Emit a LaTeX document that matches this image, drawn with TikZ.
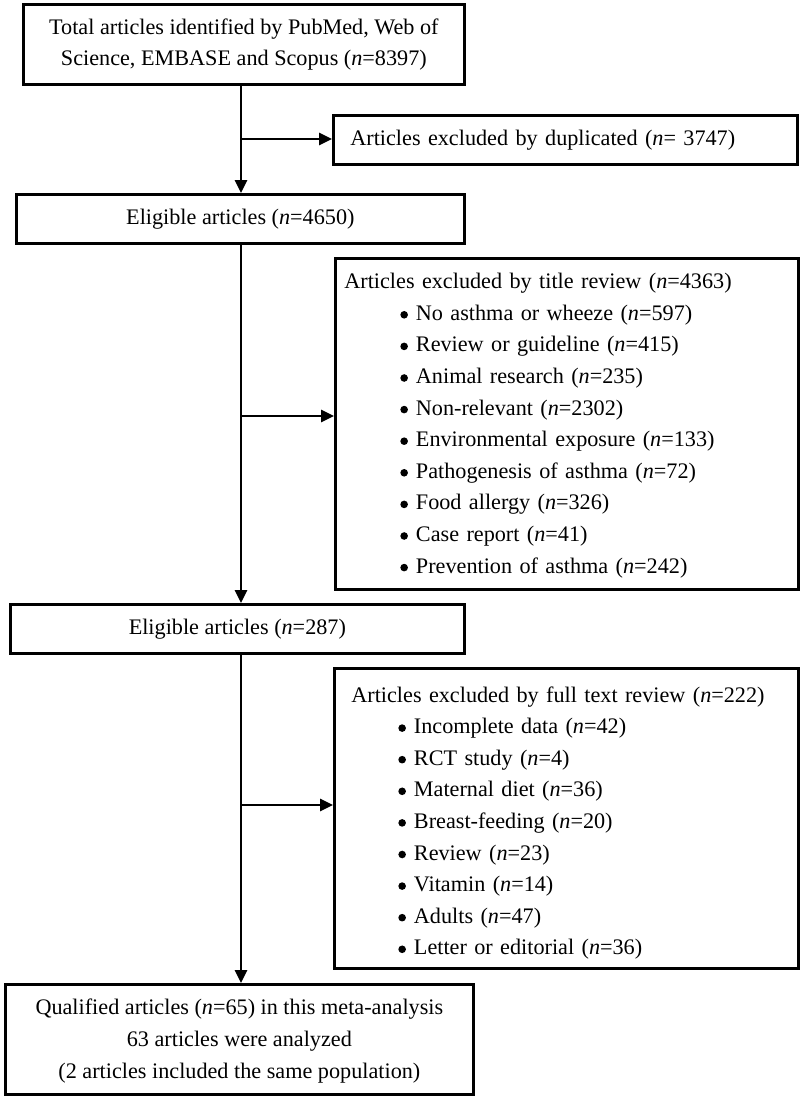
\documentclass[tikz,border=0pt]{standalone}
\usepackage{fontspec}
\setmainfont{Liberation Serif}
\usetikzlibrary{arrows.meta}
\newcommand{\bul}{\tikz[x=1pt,y=1pt,baseline={(0pt,-5.6pt)}]\fill (3.8pt,0pt) circle[radius=3.8pt];\hspace{8pt}}
\begin{document}
\begin{tikzpicture}[x=1pt,y=-1pt,
  box/.style={draw, line width=2.7pt, inner sep=0pt, anchor=north west,
    font=\fontsize{22.2}{31.6}\selectfont},
  arr/.style={line width=2.6pt, -{Triangle[length=13pt,width=12pt]}}]
\useasboundingbox (0,0) rectangle (800,1098);
\node[box, minimum width=441pt, minimum height=80pt, align=center] (b1) at (22,3)
  {Total articles identified by PubMed, Web of\\Science, EMBASE and Scopus (\textit{n}=8397)};
\node[box, minimum height=49pt, text width=430pt, inner xsep=17pt, align=left] (b2) at (332,114)
  {Articles excluded by duplicated (\textit{n}= 3747)};
\node[box, minimum width=448pt, minimum height=49pt, align=center] (b3) at (15,193)
  {Eligible articles (\textit{n}=4650)};
\node[box, minimum height=331pt, text width=445pt, inner xsep=9pt, align=left] (b4) at (334,257)
  {\rule{0pt}{19pt}Articles excluded by title review (\textit{n}=4363)\\
   \hspace*{56pt}\bul No asthma or wheeze (\textit{n}=597)\\
   \hspace*{56pt}\bul Review or guideline (\textit{n}=415)\\
   \hspace*{56pt}\bul Animal research (\textit{n}=235)\\
   \hspace*{56pt}\bul Non-relevant (\textit{n}=2302)\\
   \hspace*{56pt}\bul Environmental exposure (\textit{n}=133)\\
   \hspace*{56pt}\bul Pathogenesis of asthma (\textit{n}=72)\\
   \hspace*{56pt}\bul Food allergy (\textit{n}=326)\\
   \hspace*{56pt}\bul Case report (\textit{n}=41)\\
   \hspace*{56pt}\bul Prevention of asthma (\textit{n}=242)};
\node[box, minimum width=454pt, minimum height=49pt, align=center] (b5) at (9,603)
  {Eligible articles (\textit{n}=287)};
\node[box, minimum height=300pt, text width=430pt, inner xsep=17pt, align=left] (b6) at (333,667)
  {\rule{0pt}{25pt}Articles excluded by full text review (\textit{n}=222)\\
   \hspace*{47pt}\bul Incomplete data (\textit{n}=42)\\
   \hspace*{47pt}\bul RCT study (\textit{n}=4)\\
   \hspace*{47pt}\bul Maternal diet (\textit{n}=36)\\
   \hspace*{47pt}\bul Breast-feeding (\textit{n}=20)\\
   \hspace*{47pt}\bul Review (\textit{n}=23)\\
   \hspace*{47pt}\bul Vitamin (\textit{n}=14)\\
   \hspace*{47pt}\bul Adults (\textit{n}=47)\\
   \hspace*{47pt}\bul Letter or editorial (\textit{n}=36)};
\node[box, minimum width=468pt, minimum height=110pt, align=center] (b7) at (4,983)
  {\rule{0pt}{19pt}Qualified articles (\textit{n}=65) in this meta-analysis\\
   63 articles were analyzed\\
   (2 articles included the same population)};
\coordinate (top) at (241,83);
\coordinate (j1) at (241,139);
\coordinate (j2) at (241,416);
\coordinate (j3) at (241,805);
\draw[arr] (top) -- (top |- b3.north);
\draw[arr] (j1) -- (j1 -| b2.west);
\draw[arr] (top |- b3.south) -- (top |- b5.north);
\draw[arr] (j2) -- (j2 -| b4.west);
\draw[arr] (top |- b5.south) -- (top |- b7.north);
\draw[arr] (j3) -- (j3 -| b6.west);
\end{tikzpicture}
\end{document}
